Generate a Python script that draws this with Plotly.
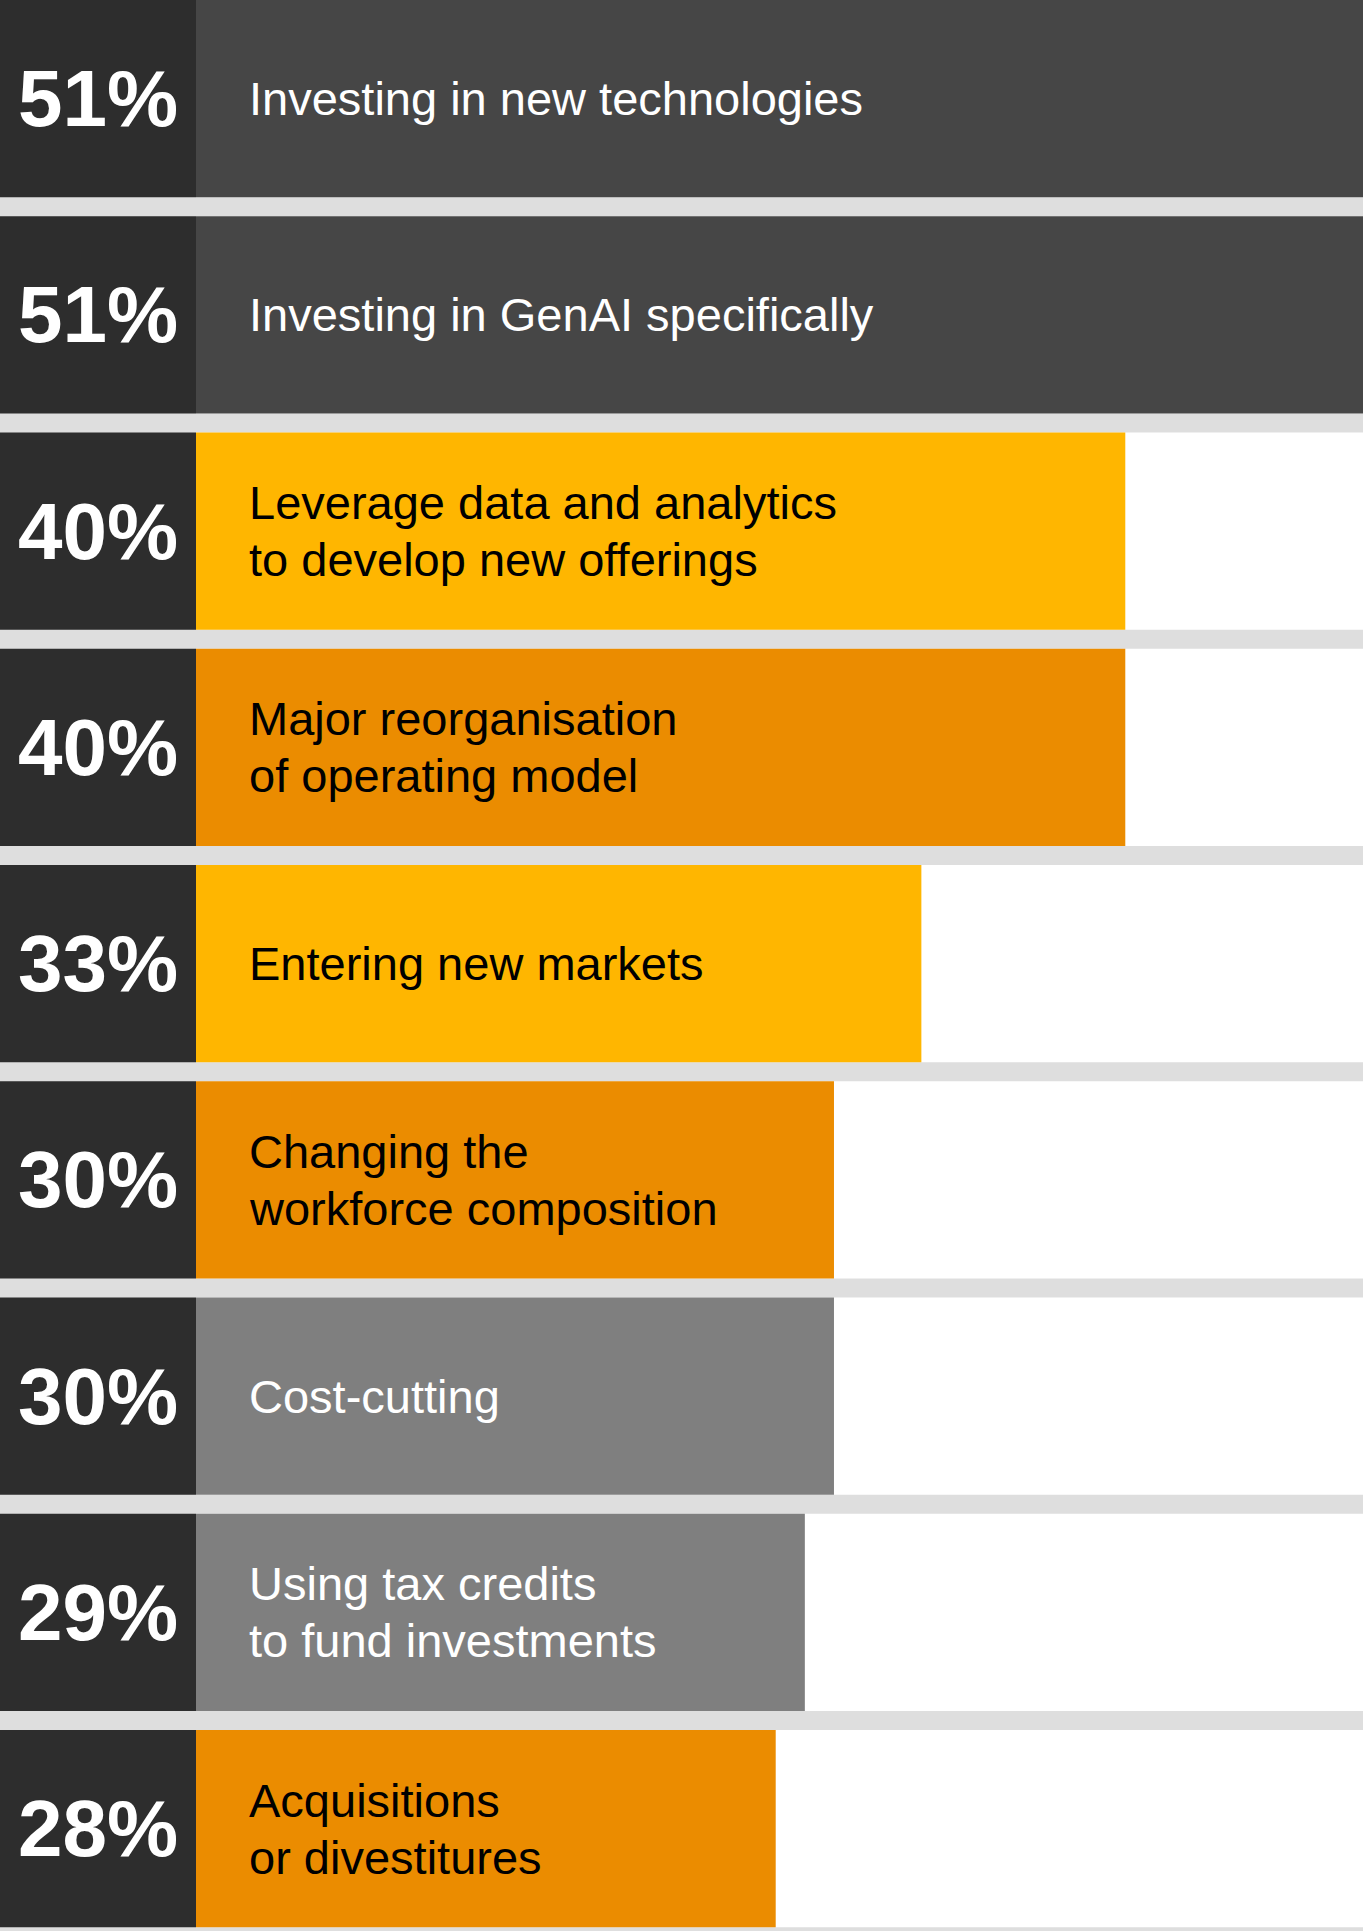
import plotly.graph_objects as go

# ---- data ----
labels = [
    "Investing in new technologies",
    "Investing in GenAI specifically",
    "Leverage data and analytics<br>to develop new offerings",
    "Major reorganisation<br>of operating model",
    "Entering new markets",
    "Changing the<br>workforce composition",
    "Cost-cutting",
    "Using tax credits<br>to fund investments",
    "Acquisitions<br>or divestitures",
]
values = [51, 51, 40, 40, 33, 30, 30, 29, 28]
bar_colors = ["#464646", "#464646", "#FFB600", "#EB8C00", "#FFB600",
              "#EB8C00", "#7F7F7F", "#7F7F7F", "#EB8C00"]
text_colors = ["#FFFFFF", "#FFFFFF", "#000000", "#000000", "#000000",
               "#000000", "#FFFFFF", "#FFFFFF", "#000000"]

W, H = 1363, 1931
LEFT = 196 / W
X_RANGE = [8.10, 48.16]
LINE_GAP = 57  # px between text lines
n = len(values)
cats = [f"c{i}" for i in range(n)]
FONT = "Liberation Sans, Arial, Helvetica, sans-serif"

fig = go.Figure()

# white row backgrounds (full width of the value axis)
fig.add_trace(go.Bar(
    y=cats, x=[X_RANGE[1]] * n, orientation="h",
    marker=dict(color="#FFFFFF", line=dict(width=0)),
    hoverinfo="skip", showlegend=False, xaxis="x", yaxis="y",
))
# value bars
fig.add_trace(go.Bar(
    y=cats, x=values, orientation="h",
    marker=dict(color=bar_colors, line=dict(width=0)),
    hoverinfo="skip", showlegend=False, xaxis="x", yaxis="y",
))
# dark percentage boxes
fig.add_trace(go.Bar(
    y=cats, x=[1] * n, orientation="h",
    marker=dict(color="#2D2D2D", line=dict(width=0)),
    text=[f"{v}%" for v in values], textposition="inside",
    insidetextanchor="middle", constraintext="none",
    textfont=dict(family=FONT, size=80, color="#FFFFFF", weight="bold"),
    hoverinfo="skip", showlegend=False, xaxis="x2", yaxis="y",
))

for i, (lab, tc) in enumerate(zip(labels, text_colors)):
    lines = lab.split("<br>")
    k = len(lines)
    for j, line in enumerate(lines):
        shift = ((k - 1) / 2 - j) * LINE_GAP
        fig.add_annotation(
            x=247 / W, xref="paper", y=cats[i], yref="y",
            text=line, showarrow=False, xanchor="left", yanchor="middle",
            align="left", yshift=shift,
            font=dict(family=FONT, size=47, color=tc),
        )

half = (1 - 0.088) / 2
pitch = 216.25
fig.update_layout(
    width=W, height=H,
    margin=dict(l=0, r=0, t=0, b=0, pad=0),
    paper_bgcolor="#DEDEDE", plot_bgcolor="#DEDEDE",
    barmode="overlay", bargap=0.088,
    xaxis=dict(domain=[LEFT, 1], range=X_RANGE, visible=False, fixedrange=True),
    xaxis2=dict(domain=[0, LEFT], range=[0, 1], visible=False, anchor="y", fixedrange=True),
    yaxis=dict(type="category", range=[-half + H / pitch, -half],
               visible=False, fixedrange=True),
    showlegend=False,
)

fig.write_html(
    "out.html",
    config={"displayModeBar": False},
    post_script="document.body.style.margin='0';document.body.style.overflow='hidden';",
)
